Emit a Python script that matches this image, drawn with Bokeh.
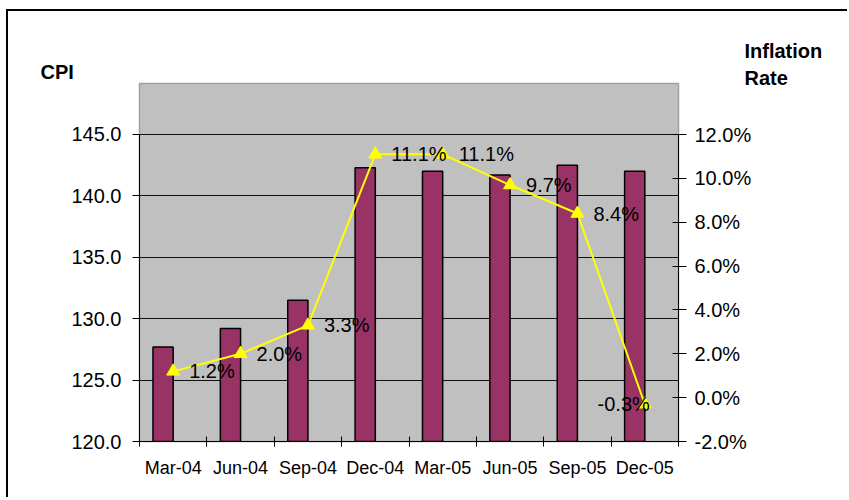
from bokeh.plotting import figure
from bokeh.models import (Range1d, LinearAxis, FixedTicker, PrintfTickFormatter,
                          NumeralTickFormatter, ColumnDataSource, Label)
from bokeh.core.properties import value
from bokeh.embed import file_html
from bokeh.resources import INLINE

# ---- data ----
quarters = ["Mar-04", "Jun-04", "Sep-04", "Dec-04", "Mar-05", "Jun-05", "Sep-05", "Dec-05"]
cpi = [127.7, 129.2, 131.5, 142.3, 142.0, 141.7, 142.5, 142.0]
inflation = [1.2, 2.0, 3.3, 11.1, 11.1, 9.7, 8.4, -0.3]
cpi_ticks = [120, 125, 130, 135, 140, 145]
rate_ticks = [-2, 0, 2, 4, 6, 8, 10, 12]

FONT = "Liberation Sans"
n = len(quarters)
centers = [i + 0.5 for i in range(n)]
bounds = [i for i in range(n + 1)]

# layout (page pixels, origin of canvas at ox, oy)
ox, oy = 8, 10
FL, FR, FT, FB = 139, 678, 82, 440
W, H = 841, 488
Y0, Y1 = 120, 149.15
P0, P1 = -2, 14.33

p = figure(width=W, height=H, output_backend="svg", toolbar_location=None,
           x_range=Range1d(0, n), y_range=Range1d(Y0, Y1),
           min_border_left=FL - ox, min_border_right=W + ox - FR,
           min_border_top=FT - oy, min_border_bottom=H + oy - FB,
           background_fill_color="#C0C0C0", border_fill_color="white",
           outline_line_color="#A0A0A0", outline_line_width=1.5)
p.styles = {"border-top": "2px solid black", "border-left": "2px solid black",
            "margin-left": "6px", "margin-top": "9px"}
p.extra_y_ranges = {"pct": Range1d(P0, P1)}

# axes
p.xaxis.visible = False
p.yaxis.visible = False
p.xgrid.visible = False
p.ygrid.ticker = FixedTicker(ticks=cpi_ticks)
p.ygrid.grid_line_color = "#111111"
p.ygrid.grid_line_width = 1

left = LinearAxis(ticker=FixedTicker(ticks=cpi_ticks), bounds=(120, 145),
                  formatter=NumeralTickFormatter(format="0.0"))
right = LinearAxis(y_range_name="pct", ticker=FixedTicker(ticks=rate_ticks), bounds=(-2, 12),
                   formatter=PrintfTickFormatter(format="%.1f%%"))
bottom = LinearAxis(ticker=FixedTicker(ticks=centers, minor_ticks=bounds),
                    major_label_overrides={c: q for c, q in zip(centers, quarters)})

for ax in (left, right, bottom):
    ax.axis_line_color = "black"
    ax.axis_line_width = 1
    ax.major_tick_line_color = "black"
    ax.minor_tick_line_color = None
    ax.major_label_text_font = FONT
    ax.major_label_text_color = "black"
    ax.major_label_text_font_style = "normal"

left.major_tick_in = 0
left.major_tick_out = 7
left.major_label_standoff = 11
left.major_label_text_font_size = "20px"

right.major_tick_in = 6
right.major_tick_out = 8
right.major_label_standoff = 8
right.major_label_text_font_size = "20px"

bottom.major_tick_in = 0
bottom.major_tick_out = 0
bottom.major_tick_line_color = None
bottom.minor_tick_line_color = "black"
bottom.minor_tick_in = 5
bottom.minor_tick_out = 5
bottom.major_label_standoff = 11
bottom.major_label_text_font_size = "18px"

p.add_layout(left, "left")
p.add_layout(right, "right")
p.add_layout(bottom, "below")

# bars
bar_src = ColumnDataSource(dict(x=[c - 0.15 for c in centers], top=cpi))
p.vbar(x="x", top="top", bottom=120, width=0.3, source=bar_src,
       fill_color="#993366", line_color="black", line_width=1.5)

# line
line_src = ColumnDataSource(dict(
    x=centers, y=inflation,
    lab=["%.1f%%" % v for v in inflation],
    align=["left"] * (n - 1) + ["right"],
    xoff=[16] * (n - 1) + [5],
))
p.line("x", "y", source=line_src, y_range_name="pct", line_color="#FFFF00", line_width=2)
p.scatter("x", "y", source=line_src, y_range_name="pct", marker="triangle", size=13,
          fill_color="#FFFF00", line_color="#FFFF00")
p.text("x", "y", text="lab", source=line_src, y_range_name="pct",
       text_align="align", x_offset="xoff", text_baseline="middle",
       text_font=value(FONT), text_font_size="20px", text_color="black")

# axis titles, as labels in the top side panels (screen units, y up from each panel's bottom)
p.add_layout(Label(x=40 - FL, y=12, x_units="screen", y_units="screen", text="CPI",
                   text_font=FONT, text_font_size="20px", text_font_style="bold",
                   text_baseline="middle", text_color="black"), "above")
p.add_layout(Label(x=744 - FL, y=-3, x_units="screen", y_units="screen", text="Inflation\nRate",
                   text_font=FONT, text_font_size="20px", text_font_style="bold",
                   text_baseline="middle", text_color="black", text_line_height=1.2),
             "above")

open("out.html", "w").write(file_html(p, INLINE))
